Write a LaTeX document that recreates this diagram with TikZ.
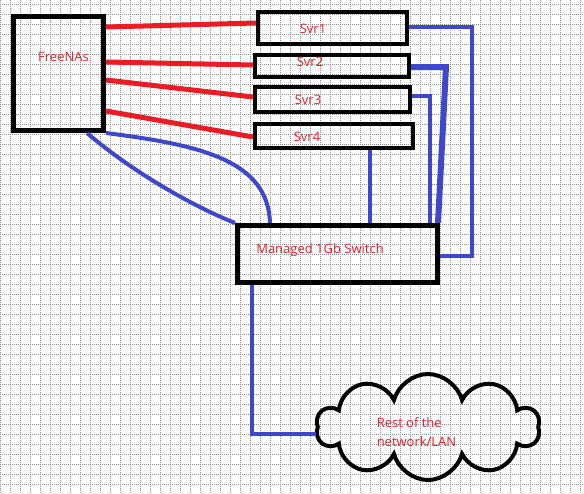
\documentclass[tikz,border=0pt]{standalone}
\usepackage{fontspec}
\setmainfont{Open Sans}
\usetikzlibrary{shapes.symbols}
\definecolor{paintred}{RGB}{237,28,36}
\definecolor{paintblue}{RGB}{63,72,204}
\begin{document}
\begin{tikzpicture}[x=1pt, y=-1pt,
    box/.style={draw, line width=5pt, inner sep=0pt},
    svrbox/.style={box, line width=4pt},
    lbl/.style={text=paintred, font=\fontsize{13}{19}\selectfont, inner sep=0pt},
    redlink/.style={paintred, line width=5pt},
    bluelink/.style={paintblue, line width=4pt}]

    \useasboundingbox (0,0) rectangle (584,493);
    \foreach \x in {0,10,...,580}
        \draw [black!45, line width=1pt, dash pattern=on 1pt off 1pt] (\x,0) -- (\x,493);
    \foreach \y in {4,14,...,484}
        \draw [black!45, line width=1pt, dash pattern=on 1pt off 1pt] (0,\y) -- (584,\y);

    \node [box, minimum width=90pt, minimum height=114pt] (nas) at (58.5,73.5) {};
    \node [lbl] (nastxt) at (63.5,57) {FreeNAs};

    \node [svrbox, minimum width=149pt, minimum height=32pt] (s1) at (332.5,28) {};
    \node [svrbox, minimum width=154pt, minimum height=22pt] (s2) at (332,66) {};
    \node [svrbox, minimum width=155pt, minimum height=25pt] (s3) at (332.5,99.5) {};
    \node [svrbox, minimum width=158pt, minimum height=24pt] (s4) at (334,136) {};
    \node [lbl] (s1txt) at (313,29) {Svr1};
    \node [lbl] (s2txt) at (310,62) {Svr2};
    \node [lbl] (s3txt) at (308,100) {Svr3};
    \node [lbl] (s4txt) at (307,137) {Svr4};

    \node [box, minimum width=200pt, minimum height=57pt] (sw) at (337.5,254) {};
    \node [lbl] (swtxt) at (320,250) {Managed 1Gb Switch};

    \node [cloud, draw, line width=4pt, cloud puffs=10, aspect=2.06,
        minimum width=223pt, minimum height=106pt, inner sep=0pt] (lan) at (428,427) {};
    \node [lbl, align=left] (lantxt) at (416.5,432.5) {Rest of the\\network/LAN};

    \draw [redlink] (nas.east |- 0,27) -- (s1.west |- 0,23);
    \draw [redlink] (nas.east |- 0,62) -- (s2.west |- 0,65);
    \draw [redlink] (nas.east |- 0,80) -- (s3.west |- 0,97);
    \draw [redlink] (nas.east |- 0,111) -- (s4.west |- 0,137);

    \draw [bluelink] (nas.south -| 87,0) .. controls (130,170) and (190,205) .. (sw.north west);
    \draw [bluelink] (nas.south east) .. controls (200,145) and (268,160) .. (sw.north -| 270,0);
    \draw [bluelink] (s4.south -| 370,0) -- (sw.north -| 370,0);
    \draw [bluelink] (s3.east |- 0,96) -| (sw.north -| 430,0);
    \draw [bluelink, line width=6pt] (s2.east |- 0,67) -- (446,67) -- (sw.north -| 438,0);
    \draw [bluelink] (s1.east |- 0,27) -| (472,256) -- (sw.east |- 0,256);
    \draw [bluelink] (sw.south -| 252,0) |- ([yshift=-7pt]lan.west);

\end{tikzpicture}
\end{document}
